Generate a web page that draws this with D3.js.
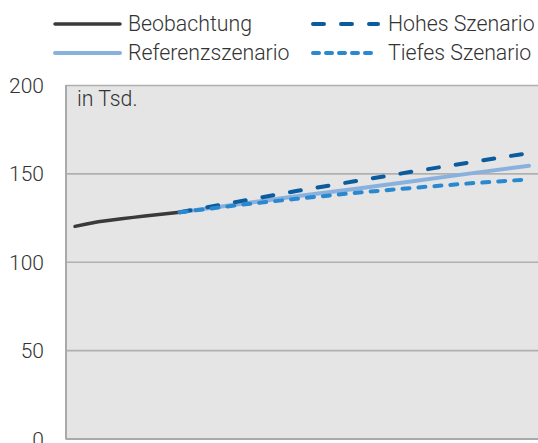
<!DOCTYPE html>
<html><head><meta charset="utf-8">
<script src="https://cdn.jsdelivr.net/npm/d3@7"></script>
<style>body{margin:0;background:#fff;} svg{display:block;font-family:Roboto,"Noto Sans",sans-serif;}</style>
</head><body>
<svg id="c" width="538" height="443"></svg>
<script>
const obsYears = [2011,2012,2013,2014,2015,2016,2017,2018,2019,2020];
const obsValues = [120.0,121.4,122.6,123.5,124.3,125.1,125.9,126.6,127.3,128.0];
const scenYears = [2020,2025,2030,2035,2040,2045,2050];
const refValues = [128.0,132.5,137.0,141.2,145.6,150.0,154.3];
const highValues = [128.0,134.0,140.0,145.5,151.0,156.3,161.5];
const lowValues = [128.0,132.0,135.6,138.9,141.8,144.4,146.6];
const yTicks = [0,50,100,150,200];
const unitLabel = "in Tsd.";
const legendItems = [
  {name:"Beobachtung", key:"obs"},
  {name:"Hohes Szenario", key:"high"},
  {name:"Referenzszenario", key:"ref"},
  {name:"Tiefes Szenario", key:"low"}
];
const styles = {
  obs:{color:"#3a3a3a", width:3.5, dash:null, cap:"round"},
  ref:{color:"#8ab1de", width:4, dash:null, cap:"round"},
  high:{color:"#0b5c9e", width:4, dash:"11,17", cap:"round"},
  low:{color:"#2a88cf", width:4, dash:"7,9", cap:"round"}
};
const legDash = {high:"11,17", low:"6,7"};
const FS = "21.3px";

const svg = d3.select("#c");
const pL = 66, pT = 85, pB = 438.5, pR = 545;
const x = d3.scaleLinear().domain([2011,2050]).range([75,529]);
const y = d3.scaleLinear().domain([0,200]).range([pB, pT]);

svg.append("rect").attr("x",pL).attr("y",pT).attr("width",pR-pL).attr("height",pB-pT).attr("fill","#e5e5e5");

const yAxis = d3.axisLeft(y).tickValues(yTicks).tickSize(-(pR-pL)).tickPadding(22);
const ga = svg.append("g").attr("transform",`translate(${pL},0)`).call(yAxis);
ga.select(".domain").remove();
ga.selectAll(".tick line").attr("stroke","#b0b0b0").attr("stroke-width",1.6);
ga.selectAll(".tick text").attr("fill","#333").attr("font-size","21px").attr("font-weight",300).attr("font-family","Roboto").attr("dy","0.36em");

svg.append("line").attr("x1",pL).attr("x2",pL).attr("y1",pT).attr("y2",pB+1).attr("stroke","#aaa").attr("stroke-width",2);
svg.append("line").attr("x1",pL).attr("x2",pR).attr("y1",pB+0.5).attr("y2",pB+0.5).attr("stroke","#aaa").attr("stroke-width",2);

svg.append("text").attr("x",77).attr("y",106).attr("font-size",FS).attr("font-weight",300).attr("fill","#333").text(unitLabel);

const line = d3.line().x(d=>x(d[0])).y(d=>y(d[1]));
function draw(years, vals, key){
  const s = styles[key];
  svg.append("path").datum(years.map((yr,i)=>[yr,vals[i]])).attr("d",line)
    .attr("fill","none").attr("stroke",s.color).attr("stroke-width",s.width)
    .attr("stroke-linecap",s.cap).attr("stroke-dasharray",s.dash);
}
draw(obsYears, obsValues, "obs");
draw(scenYears, refValues, "ref");
draw(scenYears, highValues, "high");
draw(scenYears, lowValues, "low");

const legPos = [[55,24,128],[313,24,388],[55,53,128],[313,53,388]];
legendItems.forEach((it,i)=>{
  const s = styles[it.key];
  const [lx,ly,tx] = legPos[i];
  svg.append("line").attr("x1",lx).attr("x2",lx+65).attr("y1",ly).attr("y2",ly)
    .attr("stroke",s.color).attr("stroke-width",s.width).attr("stroke-linecap",s.cap).attr("stroke-dasharray",legDash[it.key] || null);
  svg.append("text").attr("x",tx).attr("y",ly).attr("dy","0.35em").attr("font-size",FS).attr("font-weight",300).attr("fill","#333").text(it.name);
});
</script>
</body></html>
